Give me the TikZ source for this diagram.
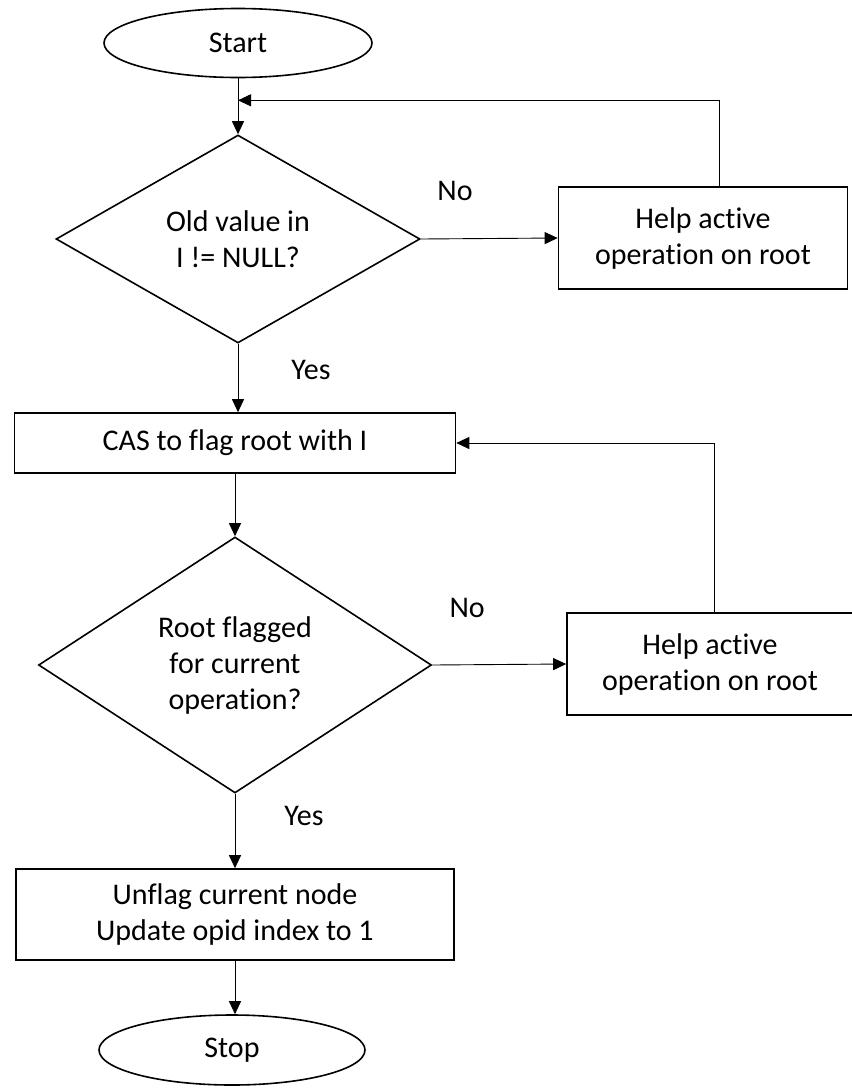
\documentclass[tikz,border=0pt]{standalone}
\usepackage{fontspec}
\setmainfont{Carlito}[Ligatures=NoCommon]
\usetikzlibrary{shapes.geometric, arrows.meta}
\tikzstyle{startstop} = [ellipse, minimum width=268pt, minimum height=69pt,
  text centered, draw=black, line width=1.6pt]
\tikzstyle{process} = [rectangle, minimum height=60pt, align=center,
  draw=black, line width=1.6pt]
\tikzstyle{decision} = [diamond, inner sep=0pt, align=center, draw=black,
  line width=1.6pt]
\tikzstyle{answer} = [inner sep=0pt]
\tikzstyle{arrow} = [line width=0.9pt,-{Triangle[length=13pt,width=12pt]}]

\begin{document}
\begin{tikzpicture}[node distance=200pt, font=\fontsize{30pt}{36pt}\selectfont]

  \useasboundingbox (0,0) rectangle (852pt,-1088pt);

  %% Start block
  \node (start) [startstop] at (238pt,-43pt) {Start};
  \node (dec1) [decision, below of=start, yshift=4pt, shape aspect=1.75,
    minimum width=364pt, minimum height=208pt] {Old value in\\I != NULL?};
  \node (help1) [process, right of=dec1, xshift=265pt, yshift=1pt,
    minimum width=289pt, minimum height=102pt] {Help active\\operation on root};
  \node (cas) [process, below of=dec1, yshift=-4pt, xshift=-3pt,
    minimum width=441pt] {CAS to flag root with I};
  \node (dec2) [decision, below of=cas, yshift=-22pt, shape aspect=1.535,
    minimum width=393pt, minimum height=256pt] {Root flagged\\for current\\operation?};
  \node (help2) [process, right of=dec2, xshift=275pt, yshift=1pt,
    minimum width=286pt, minimum height=102pt] {Help active\\operation on root};
  \node (upd) [process, below of=dec2, yshift=-49.5pt,
    minimum width=438pt, minimum height=91pt] {Unflag current node\\Update opid index to 1};
  \node (stop) [startstop, below of=upd, yshift=64.5pt, xshift=-3pt,
    minimum width=266pt, minimum height=70pt] {Stop};

  %% Loop back points
  \coordinate (loop1) at ([yshift=-22pt]start.south);

  \draw [arrow] (start) -- (dec1);
  \draw [arrow] (dec1.south) -- node[answer, pos=0.39, right=53pt] {Yes} (dec1.south |- cas.north);
  \draw [arrow] (dec1.east) -- node[answer, pos=0.25, anchor=south, yshift=38pt] {No} (help1.west);
  \draw [arrow] (cas.south -| dec2.north) -- (dec2.north);
  \draw [arrow] (dec2.south) -- node[answer, pos=0.30, right=49pt] {Yes} (upd.north -| dec2.south);
  \draw [arrow] (dec2.east) -- node[answer, pos=0.26, anchor=south, yshift=47pt] {No} (help2.west);
  \draw [arrow] (upd.south -| dec2.south) -- (stop.north -| dec2.south);

  %% Go up first, then across to the loop entry
  \draw [arrow] ([xshift=16.5pt]help1.north) |- (loop1);
  \draw [arrow] ([xshift=4pt]help2.north) |- (cas.east);

\end{tikzpicture}
\end{document}
